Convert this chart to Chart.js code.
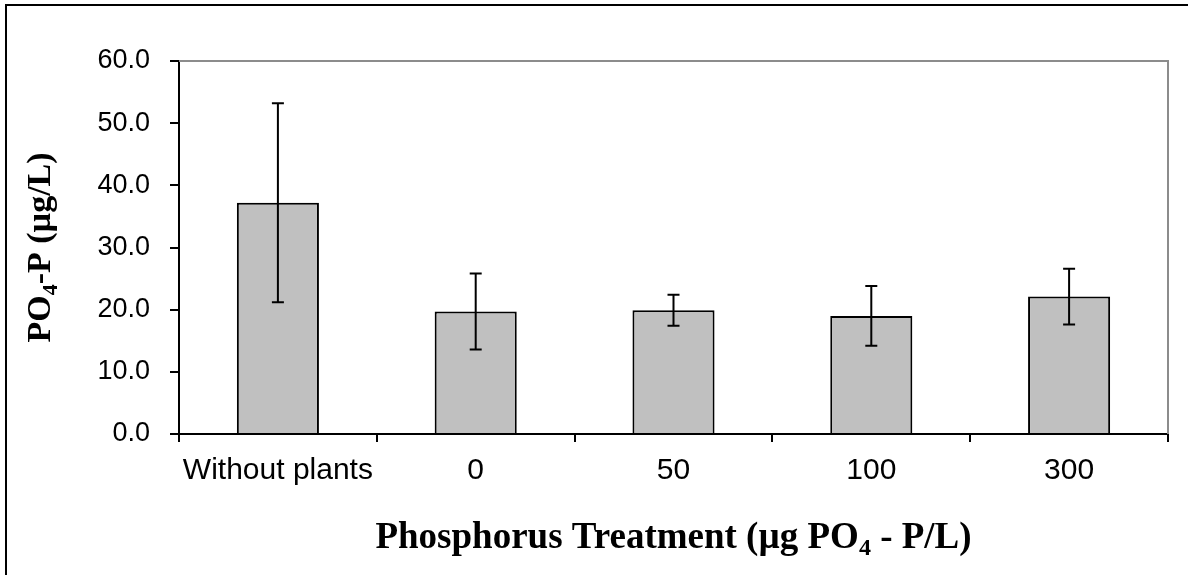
<!DOCTYPE html>
<html>
<head>
<meta charset="utf-8">
<script src="https://cdn.jsdelivr.net/npm/chart.js@4/dist/chart.umd.min.js"></script>
<style>
  body { margin: 0; background: #fff; }
  canvas { display: block; }
</style>
</head>
<body>
<canvas id="chart" width="1188" height="575"></canvas>
<script>
// Datos del gráfico
const categories = ["Without plants", "0", "50", "100", "300"];
const means = [37.2, 19.7, 19.9, 19.0, 22.1];
const errors = [16.0, 6.1, 2.5, 4.8, 4.5];
const yTicks = [0, 10, 20, 30, 40, 50, 60];

// Títulos con subíndices (texto normal / subíndice)
const yTitle = [["PO", false], ["4", true], ["-P (µg/L)", false]];
const xTitle = [["Phosphorus Treatment (µg PO", false], ["4", true], [" - P/L)", false]];

const serif = "'Liberation Serif', 'Times New Roman', serif";

// Dibuja un texto con partes en subíndice, centrado en x
function drawRich(ctx, parts, x, y, size) {
  const main = `bold ${size}px ${serif}`;
  const sub = `bold ${Math.round(size * 0.65)}px ${serif}`;
  let total = 0;
  parts.forEach(([t, s]) => {
    ctx.font = s ? sub : main;
    total += ctx.measureText(t).width;
  });
  let cx = x - total / 2;
  ctx.textAlign = "left";
  ctx.textBaseline = "alphabetic";
  parts.forEach(([t, s]) => {
    ctx.font = s ? sub : main;
    ctx.fillText(t, cx, s ? y + size * 0.2 : y);
    cx += ctx.measureText(t).width;
  });
}

// Barras de error, marco del área y títulos
const extras = {
  id: "extras",
  beforeDraw(chart) {
    const ctx = chart.ctx;
    ctx.save();
    ctx.fillStyle = "#fff";
    ctx.fillRect(0, 0, chart.width, chart.height);
    ctx.strokeStyle = "#000";
    ctx.lineWidth = 2;
    ctx.beginPath();
    ctx.moveTo(6, chart.height);
    ctx.lineTo(6, 5);
    ctx.lineTo(chart.width, 5);
    ctx.stroke();
    ctx.restore();
  },
  afterDatasetsDraw(chart) {
    const ctx = chart.ctx;
    const { left, right, top, bottom } = chart.chartArea;
    const yScale = chart.scales.y;
    const meta = chart.getDatasetMeta(0);
    ctx.save();
    // borde superior y derecho en gris
    ctx.strokeStyle = "#8c8c8c";
    ctx.lineWidth = 2;
    ctx.beginPath();
    ctx.moveTo(left, top);
    ctx.lineTo(right, top);
    ctx.lineTo(right, bottom);
    ctx.stroke();

    ctx.strokeStyle = "#000";
    ctx.lineWidth = 2;
    meta.data.forEach((bar, i) => {
      const x = bar.x;
      const yHi = yScale.getPixelForValue(means[i] + errors[i]);
      const yLo = yScale.getPixelForValue(means[i] - errors[i]);
      ctx.beginPath();
      ctx.moveTo(x, yHi);
      ctx.lineTo(x, yLo);
      ctx.moveTo(x - 6, yHi);
      ctx.lineTo(x + 6, yHi);
      ctx.moveTo(x - 6, yLo);
      ctx.lineTo(x + 6, yLo);
      ctx.stroke();
    });
    ctx.restore();
  },
  afterDraw(chart) {
    const ctx = chart.ctx;
    const { left, right, top, bottom } = chart.chartArea;
    ctx.save();
    ctx.fillStyle = "#000";
    drawRich(ctx, xTitle, (left + right) / 2, 548, 37);
    ctx.translate(50, (top + bottom) / 2);
    ctx.rotate(-Math.PI / 2);
    drawRich(ctx, yTitle, 0, 0, 34);
    ctx.restore();
  }
};

new Chart(document.getElementById("chart"), {
  type: "bar",
  data: {
    labels: categories,
    datasets: [{
      data: means,
      backgroundColor: "#c0c0c0",
      borderColor: "#000",
      borderWidth: 2,
      categoryPercentage: 1,
      barPercentage: 0.415
    }]
  },
  options: {
    responsive: false,
    animation: false,
    layout: { padding: { left: 0, right: 20, top: 61, bottom: 0 } },
    plugins: {
      legend: { display: false },
      tooltip: { enabled: false }
    },
    scales: {
      x: {
        afterFit: (scale) => { scale.height = 141; },
        border: { color: "#000", width: 2 },
        grid: {
          offset: true,
          drawOnChartArea: false,
          color: "#000",
          lineWidth: 2,
          tickLength: 8
        },
        ticks: {
          color: "#000",
          padding: 11,
          maxRotation: 0,
          font: { family: "'Liberation Sans', Arial, sans-serif", size: 30 }
        }
      },
      y: {
        min: 0,
        max: 60,
        afterFit: (scale) => { scale.width = 179; },
        afterBuildTicks: (scale) => { scale.ticks = yTicks.map((v) => ({ value: v })); },
        border: { color: "#000", width: 2 },
        grid: {
          drawOnChartArea: false,
          color: "#000",
          lineWidth: 2,
          tickLength: 9
        },
        ticks: {
          color: "#000",
          padding: 20,
          callback: (v) => Number(v).toFixed(1),
          font: { family: "'Liberation Sans', Arial, sans-serif", size: 27 }
        }
      }
    }
  },
  plugins: [extras]
});
</script>
</body>
</html>
